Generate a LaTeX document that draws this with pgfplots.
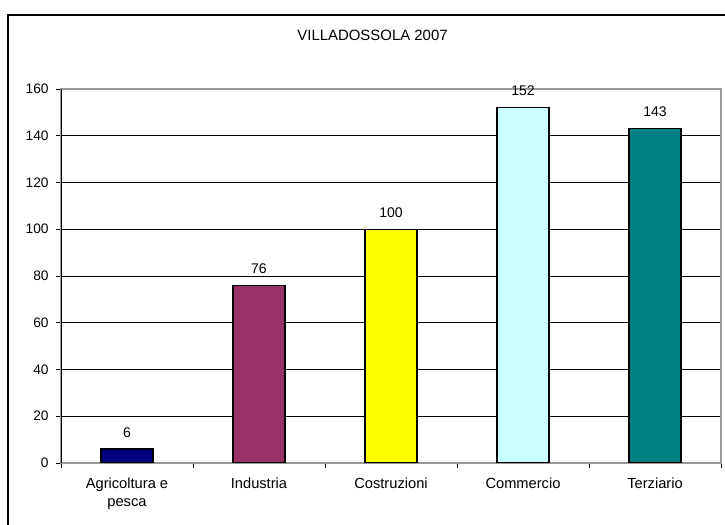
\documentclass[border=0pt]{standalone}
\usepackage{fontspec}
\setmainfont{Liberation Sans}
\usepackage{pgfplots}
\pgfplotsset{compat=1.18}
\definecolor{cNavy}{HTML}{000080}
\definecolor{cPlum}{HTML}{993366}
\definecolor{cYel}{HTML}{FFFF00}
\definecolor{cCyan}{HTML}{CCFFFF}
\definecolor{cTeal}{HTML}{008080}
\begin{document}
\begin{tikzpicture}
\useasboundingbox (0,0) rectangle (543.75pt,393.75pt);
\draw[black, line width=0.8pt] (6pt,-5pt) -- (6pt,382.5pt) -- (550pt,382.5pt);
\node[font=\fontsize{11.2}{13}\selectfont] at (279.4pt,367pt) {VILLADOSSOLA 2007};
\begin{axis}[
  at={(45.75pt,46.5pt)}, anchor=south west,
  scale only axis, width=495pt, height=280.5pt,
  xmin=-0.5, xmax=4.5, ymin=0, ymax=160,
  ytick={0,20,...,160},
  xtick={0,1,2,3,4},
  xticklabels={{Agricoltura e\\pesca},Industria,Costruzioni,Commercio,Terziario},
  minor xtick={-0.5,0.5,1.5,2.5,3.5,4.5},
  major x tick style={draw=none},
  minor x tick style={black},
  xtick pos=bottom, ytick pos=left,
  tick align=outside,
  major tick length=3.75pt, minor tick length=3.75pt,
  ymajorgrids, grid style={black, line width=0.6pt},
  axis line style={gray!80, line width=0.8pt},
  tick style={black, line width=0.6pt},
  /pgf/number format/assume math mode=true,
  yticklabel style={font=\fontsize{10.3}{12}\selectfont, xshift=-2pt},
  xticklabel style={font=\fontsize{11}{13.5}\selectfont, align=center, yshift=-4pt},
  nodes near coords,
  every node near coord/.append style={font=\fontsize{10.5}{12}\selectfont, black, yshift=5pt},
  bar width=0.394,
]
\addplot[ybar, bar shift=0pt, fill=cNavy, draw=black, line width=0.8pt] coordinates {(0,6)};
\addplot[ybar, bar shift=0pt, fill=cPlum, draw=black, line width=0.8pt] coordinates {(1,76)};
\addplot[ybar, bar shift=0pt, fill=cYel, draw=black, line width=0.8pt] coordinates {(2,100)};
\addplot[ybar, bar shift=0pt, fill=cCyan, draw=black, line width=0.8pt] coordinates {(3,152)};
\addplot[ybar, bar shift=0pt, fill=cTeal, draw=black, line width=0.8pt] coordinates {(4,143)};
\draw[black, line width=0.8pt] (rel axis cs:0,0) -- (rel axis cs:0,1);
\end{axis}
\end{tikzpicture}
\end{document}
